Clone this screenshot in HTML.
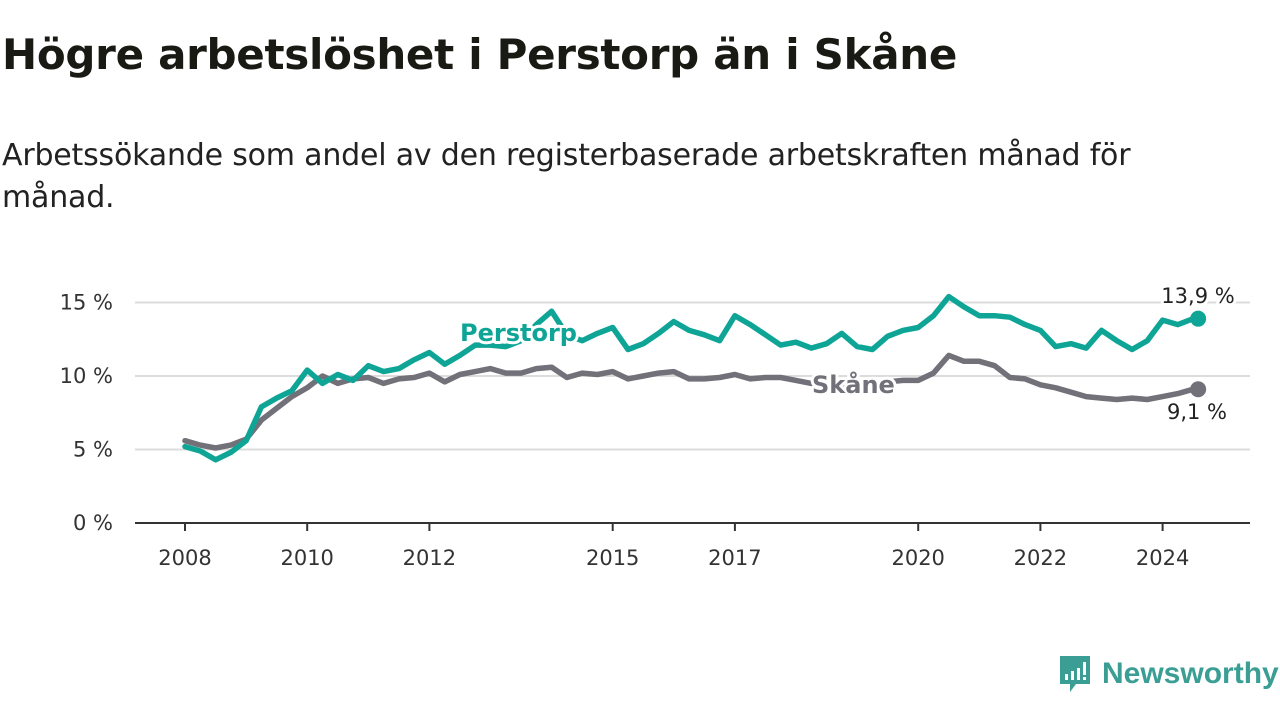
<!DOCTYPE html>
<html><head><meta charset="utf-8"><style>
body{margin:0;width:1280px;height:720px;background:#fff;font-family:"DejaVu Sans","Liberation Sans",sans-serif;overflow:hidden;position:relative;color:#1a1a14}
h1{position:absolute;left:2px;top:30px;margin:0;font-size:42px;font-weight:bold;letter-spacing:-0.3px;white-space:nowrap}
.sub{position:absolute;left:2px;top:135px;margin:0;font-size:30px;line-height:42px;width:1200px;color:#222;letter-spacing:-0.2px}
svg{position:absolute;left:0;top:0}
.logo{position:absolute;left:1058px;top:654px;display:flex;align-items:center;gap:10px}
.logo span{color:#3a9e94;font-size:30px;font-weight:bold;font-family:"Liberation Sans",sans-serif}
</style></head><body>
<h1>Högre arbetslöshet i Perstorp än i Skåne</h1>
<p class="sub">Arbetssökande som andel av den registerbaserade arbetskraften månad för månad.</p>
<svg id="chart" width="1280" height="720"></svg>
<div class="logo">
<svg width="34" height="40" style="position:static" viewBox="0 0 34 40"><path d="M2 2h30v28H18l-6 8v-8H2z" fill="#3a9e94"/><rect x="7" y="20" width="3" height="6" fill="#fff"/><rect x="13" y="17" width="3" height="9" fill="#fff"/><rect x="19" y="14" width="3" height="12" fill="#fff"/><rect x="25" y="8" width="3" height="13" fill="#fff"/><rect x="25" y="23" width="3" height="3" fill="#fff"/></svg>
<span>Newsworthy</span></div>
<script>
const startYear = 2008;
const stepYears = 0.25;
const perstorp = [5.2,4.9,4.3,4.8,5.6,7.9,8.5,9.0,10.4,9.5,10.1,9.7,10.7,10.3,10.5,11.1,11.6,10.8,11.4,12.1,12.1,12.0,12.4,13.5,14.4,12.8,12.4,12.9,13.3,11.8,12.2,12.9,13.7,13.1,12.8,12.4,14.1,13.5,12.8,12.1,12.3,11.9,12.2,12.9,12.0,11.8,12.7,13.1,13.3,14.1,15.4,14.7,14.1,14.1,14.0,13.5,13.1,12.0,12.2,11.9,13.1,12.4,11.8,12.4,13.8,13.5,13.9];
const skane = [5.6,5.3,5.1,5.3,5.7,7.0,7.8,8.6,9.2,10.0,9.5,9.8,9.9,9.5,9.8,9.9,10.2,9.6,10.1,10.3,10.5,10.2,10.2,10.5,10.6,9.9,10.2,10.1,10.3,9.8,10.0,10.2,10.3,9.8,9.8,9.9,10.1,9.8,9.9,9.9,9.7,9.5,9.3,9.3,9.4,9.5,9.6,9.7,9.7,10.2,11.4,11.0,11.0,10.7,9.9,9.8,9.4,9.2,8.9,8.6,8.5,8.4,8.5,8.4,8.6,8.8,9.1];
const yTicks = [0,5,10,15];
const xTicks = [2008,2010,2012,2015,2017,2020,2022,2024];
const NS="http://www.w3.org/2000/svg";
const svg=document.getElementById('chart');
const X=y=>185+(y-2008)*61.1;
const Y=v=>523-v*14.7;
function mk(t,a,p){const e=document.createElementNS(NS,t);for(const k in a)e.setAttribute(k,a[k]);(p||svg).appendChild(e);return e;}
yTicks.forEach(v=>{
  if(v>0){const g=mk('line',{x1:135,x2:1250,y1:Y(v),y2:Y(v),stroke:'#dcdcdc','stroke-width':2});
  
  }
  const t=mk('text',{x:113,y:Y(v)+7,'text-anchor':'end','font-size':21,fill:'#333'});t.textContent=v+' %';
  
  
});
const ax=mk('line',{x1:135,x2:1250,y1:523,y2:523,stroke:'#333','stroke-width':2});


xTicks.forEach(yr=>{
  mk('line',{x1:X(yr),x2:X(yr),y1:523,y2:531,stroke:'#333','stroke-width':2});
  const t=mk('text',{x:X(yr),y:565,'text-anchor':'middle','font-size':21,fill:'#333'});t.textContent=yr;
  
  
});
function series(vals,col,name){
  const d=vals.map((v,i)=>(i?'L':'M')+X(startYear+i*stepYears).toFixed(1)+' '+Y(v).toFixed(1)).join(' ');
  const p=mk('path',{d:d,fill:'none',stroke:col,'stroke-width':5.5,'stroke-linejoin':'round','stroke-linecap':'round'});
  
  
  const n=vals.length-1;
  const c=mk('circle',{cx:X(startYear+n*stepYears)+5,cy:Y(vals[n]),r:8,fill:col});
  
  
}
series(skane,'#727078','skane');
series(perstorp,'#0ea596','perstorp');
function lbl(x,y,txt,col,size,w,anchor,name){
  const t=mk('text',{x:x,y:y,'font-size':size,'font-weight':w,fill:col,'text-anchor':anchor,stroke:'#fff','stroke-width':6,'paint-order':'stroke','stroke-linejoin':'round'});
  t.textContent=txt;
  
  
}
lbl(460,341,'Perstorp','#0ea596',24,'bold','start','perstorp-label');
lbl(812,393,'Skåne','#727078',24,'bold','start','skane-label');
lbl(1198,303,'13,9 %','#222',21,'normal','middle','perstorp-end-value');
lbl(1197,419,'9,1 %','#222',21,'normal','middle','skane-end-value');
</script>
</body></html>
